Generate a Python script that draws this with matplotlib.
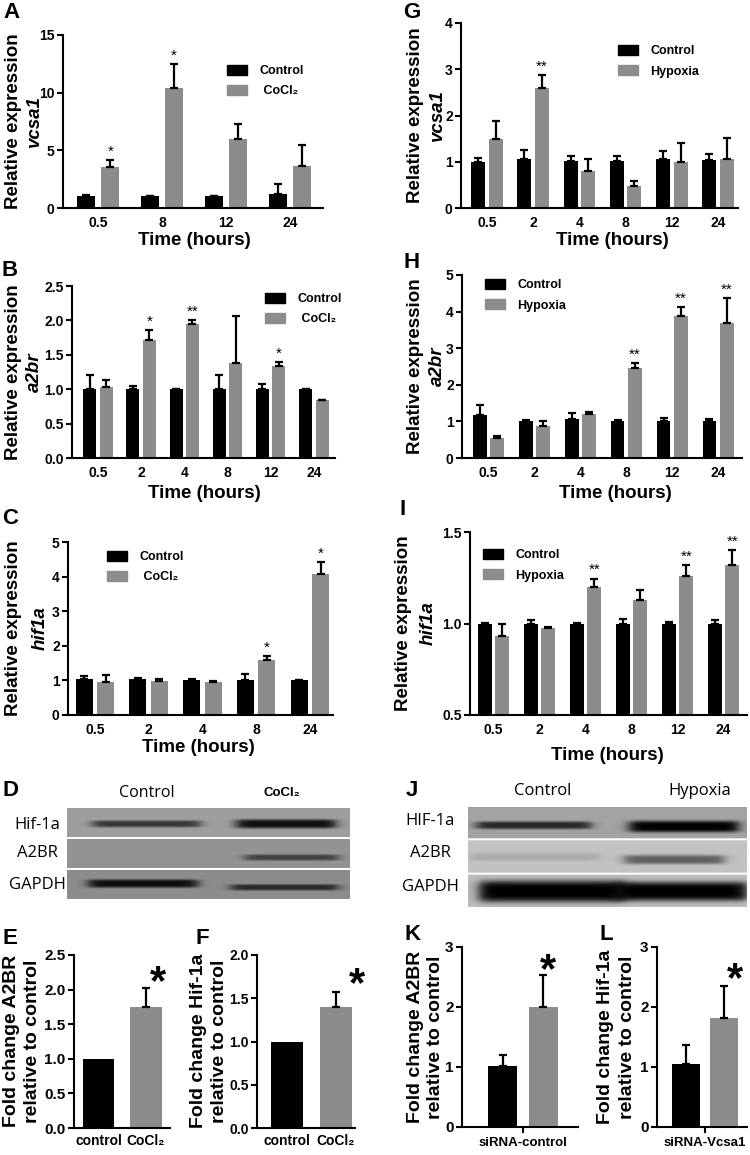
import numpy as np
import matplotlib
matplotlib.use("Agg")
import matplotlib.pyplot as plt
from matplotlib.patches import Patch
from matplotlib.ticker import FormatStrFormatter

plt.rcParams["font.family"] = ["Liberation Sans", "DejaVu Sans"]
plt.rcParams["font.weight"] = "bold"

W, H = 750, 1155
BLACK = "#000000"
GREY = "#8c8c8c"
BLOT_FONT = ["Open Sans", "DejaVu Sans"]

# ---- qPCR time courses (left: CoCl2, right: hypoxia) ----
A_times = ["0.5", "8", "12", "24"]
A_ctrl = [1.0, 1.0, 1.0, 1.2]
A_ctrl_err = [0.1, 0.08, 0.05, 0.85]
A_trt = [3.55, 10.4, 5.95, 3.6]
A_trt_err = [0.6, 2.1, 1.35, 1.9]
A_stars = ["*", "*", "", ""]

B_times = ["0.5", "2", "4", "8", "12", "24"]
B_ctrl = [1.0, 1.0, 1.0, 1.01, 1.0, 1.0]
B_ctrl_err = [0.21, 0.05, 0.01, 0.2, 0.07, 0.01]
B_trt = [1.03, 1.72, 1.95, 1.38, 1.33, 0.84]
B_trt_err = [0.11, 0.14, 0.05, 0.69, 0.07, 0.01]
B_stars = ["", "*", "**", "", "*", ""]

C_times = ["0.5", "2", "4", "8", "24"]
C_ctrl = [1.04, 1.04, 1.02, 1.01, 1.0]
C_ctrl_err = [0.09, 0.02, 0.02, 0.17, 0.02]
C_trt = [0.96, 0.97, 0.96, 1.6, 4.08]
C_trt_err = [0.21, 0.08, 0.03, 0.11, 0.35]
C_stars = ["", "", "", "*", "*"]

G_times = ["0.5", "2", "4", "8", "12", "24"]
G_ctrl = [1.0, 1.06, 1.02, 1.02, 1.05, 1.03]
G_ctrl_err = [0.08, 0.2, 0.11, 0.1, 0.19, 0.14]
G_trt = [1.5, 2.6, 0.8, 0.47, 1.0, 1.05]
G_trt_err = [0.38, 0.27, 0.25, 0.12, 0.4, 0.47]
G_stars = ["", "**", "", "", "", ""]

H_times = ["0.5", "2", "4", "8", "12", "24"]
H_ctrl = [1.17, 1.02, 1.07, 1.02, 1.02, 1.02]
H_ctrl_err = [0.28, 0.03, 0.17, 0.03, 0.08, 0.05]
H_trt = [0.56, 0.87, 1.2, 2.47, 3.88, 3.7]
H_trt_err = [0.05, 0.15, 0.05, 0.13, 0.24, 0.68]
H_stars = ["", "", "", "**", "**", "**"]

I_times = ["0.5", "2", "4", "8", "12", "24"]
I_ctrl = [1.0, 1.0, 1.0, 1.0, 1.0, 1.0]
I_ctrl_err = [0.005, 0.02, 0.005, 0.025, 0.01, 0.02]
I_trt = [0.93, 0.975, 1.2, 1.13, 1.26, 1.32]
I_trt_err = [0.065, 0.008, 0.045, 0.055, 0.06, 0.08]
I_stars = ["", "", "**", "", "**", "**"]

# ---- western blot quantification ----
E_vals = [1.0, 1.75]
E_err = [0.0, 0.27]
F_vals = [1.0, 1.4]
F_err = [0.0, 0.17]
K_vals = [1.02, 2.0]
K_err = [0.18, 0.54]
L_vals = [1.05, 1.82]
L_err = [0.32, 0.53]

# ---- blot bands: (row, x0, x1, y centre, half-thickness, darkness) in blot fractions ----
D_rows = ["Hif-1a", "A2BR", "GAPDH"]
D_bg = [0.62, 0.58, 0.55]
D_bands = [(0, 0.09, 0.47, 0.53, 0.10, 0.65), (0, 0.60, 0.95, 0.53, 0.13, 0.9),
           (1, 0.63, 0.96, 0.62, 0.09, 0.55),
           (2, 0.075, 0.46, 0.45, 0.12, 0.9), (2, 0.58, 0.96, 0.58, 0.09, 0.7)]
J_rows = ["HIF-1a", "A2BR", "GAPDH"]
J_bg = [0.64, 0.76, 0.74]
J_bands = [(0, 0.03, 0.44, 0.58, 0.10, 0.75), (0, 0.58, 0.97, 0.62, 0.15, 1.0),
           (1, 0.01, 0.47, 0.50, 0.10, 0.12), (1, 0.56, 0.92, 0.58, 0.12, 0.5),
           (2, 0.04, 0.56, 0.50, 0.28, 1.0), (2, 0.53, 1.0, 0.50, 0.25, 1.0)]

fig = plt.figure(figsize=(W / 100, H / 100), dpi=100)
fig.patch.set_facecolor("white")


def box(l, t, r, b):
    return [l / W, 1 - b / H, (r - l) / W, (b - t) / H]


def ftext(x, y, s, **kw):
    kw.setdefault("ha", "center")
    kw.setdefault("va", "center")
    fig.text(x / W, 1 - y / H, s, **kw)


def style(ax, ylim, yticks, yfmt, ysize=10):
    for side in ("top", "right"):
        ax.spines[side].set_visible(False)
    for side in ("left", "bottom"):
        ax.spines[side].set_linewidth(1.5)
    ax.set_ylim(*ylim)
    ax.set_yticks(yticks)
    ax.yaxis.set_major_formatter(FormatStrFormatter(yfmt))
    ax.tick_params(axis="y", direction="out", length=4, width=1.5, labelsize=ysize, pad=2)
    ax.tick_params(axis="x", length=0, pad=6, labelsize=10)


def legend_at(ax, x, y, trt_label):
    handles = [Patch(color=BLACK), Patch(color=GREY)]
    ax.legend(handles, ["Control", trt_label], loc="upper left",
              bbox_to_anchor=(x / W, 1 - y / H), bbox_transform=fig.transFigure,
              frameon=False, borderpad=0, borderaxespad=0, handlelength=1.6,
              handleheight=0.9, handletextpad=1.0, labelspacing=0.6, fontsize=9)


def errs(ax, x, vals, err):
    ax.errorbar(x, vals, yerr=[np.zeros(len(vals)), err], fmt="none", ecolor=BLACK,
                elinewidth=1.6, capsize=3, capthick=1.6)


def time_panel(rect, times, ctrl, ctrl_err, trt, trt_err, stars, ylim, yticks, yfmt,
               xlim, width=0.3, off=0.19):
    ax = fig.add_axes(box(*rect))
    x = np.arange(len(times))
    ax.bar(x - off, ctrl, width, color=BLACK)
    ax.bar(x + off, trt, width, color=GREY)
    errs(ax, x - off, ctrl, ctrl_err)
    errs(ax, x + off, trt, trt_err)
    for xi, top, s in zip(x + off, np.add(trt, trt_err), stars):
        if s:
            ax.annotate(s, (xi, top), xytext=(0, 1), textcoords="offset points",
                        ha="center", va="bottom", fontsize=11, fontweight="normal")
    ax.set_xticks(x)
    ax.set_xticklabels(times)
    ax.set_xlim(*xlim)
    style(ax, ylim, yticks, yfmt)
    return ax


def ylabels(x1, x2, yc, line1, line2, size=13.5, italic=True):
    ftext(x1, yc, line1, rotation=90, fontsize=size)
    ftext(x2, yc, line2, rotation=90, fontsize=size, style="italic" if italic else "normal")


# ---------------- A ----------------
ax = time_panel((63, 35, 323, 208), A_times, A_ctrl, A_ctrl_err, A_trt, A_trt_err, A_stars,
                (0, 15), [0, 5, 10, 15], "%d", (-0.55, 3.52), width=0.28)
legend_at(ax, 227, 65, " CoCl₂")
ylabels(14, 34, 121, "Relative expression", "vcsa1")
ftext(194, 240, "Time (hours)", fontsize=13.5)

# ---------------- B ----------------
ax = time_panel((72, 286, 335, 458), B_times, B_ctrl, B_ctrl_err, B_trt, B_trt_err, B_stars,
                (0, 2.5), [0, 0.5, 1.0, 1.5, 2.0, 2.5], "%.1f", (-0.6, 5.49))
legend_at(ax, 265, 293, " CoCl₂")
ylabels(14, 34, 372, "Relative expression", "a2br")
ftext(204, 493, "Time (hours)", fontsize=13.5)

# ---------------- C ----------------
ax = time_panel((68, 542, 333, 715), C_times, C_ctrl, C_ctrl_err, C_trt, C_trt_err, C_stars,
                (0, 5), [0, 1, 2, 3, 4, 5], "%d", (-0.5, 4.43), width=0.32, off=0.2)
legend_at(ax, 107, 551, " CoCl₂")
ylabels(14, 40, 628, "Relative expression", "hif1a")
ftext(198, 748, "Time (hours)", fontsize=13.5)

# ---------------- G ----------------
ax = time_panel((461, 23, 738, 208), G_times, G_ctrl, G_ctrl_err, G_trt, G_trt_err, G_stars,
                (0, 4), [0, 1, 2, 3, 4], "%d", (-0.56, 5.43))
legend_at(ax, 618, 45, "Hypoxia")
ylabels(415, 437, 115, "Relative expression", "vcsa1")
ftext(612, 240, "Time (hours)", fontsize=13.5)

# ---------------- H ----------------
ax = time_panel((462, 275, 742, 458), H_times, H_ctrl, H_ctrl_err, H_trt, H_trt_err, H_stars,
                (0, 5), [0, 1, 2, 3, 4, 5], "%d", (-0.58, 5.52))
legend_at(ax, 485, 279, "Hypoxia")
ylabels(415, 437, 366, "Relative expression", "a2br")
ftext(615, 494, "Time (hours)", fontsize=13.5)

# ---------------- I ----------------
ax = time_panel((470, 532, 747, 715), I_times, I_ctrl, I_ctrl_err, I_trt, I_trt_err, I_stars,
                (0.5, 1.5), [0.5, 1.0, 1.5], "%.1f", (-0.51, 5.51))
legend_at(ax, 483, 549, "Hypoxia")
ylabels(404, 428, 623, "Relative expression", "hif1a")
ftext(607, 755, "Time (hours)", fontsize=13.5)


# ---------------- blots D / J ----------------
def blot(rect, bg, bands, sep_px=2):
    l, t, r, b = rect
    w, h = r - l, b - t
    ax = fig.add_axes(box(*rect))
    img = np.ones((h, w))
    row_h = (h - 2 * sep_px) / 3.0
    xs = np.linspace(0, 1, w)
    for k in range(3):
        y0 = int(round(k * (row_h + sep_px)))
        y1 = int(round(y0 + row_h))
        img[y0:y1, :] = bg[k]
    for row, x0, x1, yc, hw, dark in bands:
        y0 = row * (row_h + sep_px)
        ys = (np.arange(h) - y0) / row_h
        gy = np.exp(-(((ys - yc) / hw) ** 4) / 2)
        gy[(ys < 0) | (ys > 1)] = 0
        gx = 0.5 * (np.tanh((xs - x0) / 0.025) - np.tanh((xs - x1) / 0.025))
        img = img - np.outer(gy, gx) * dark * img
    ax.imshow(img, cmap="gray", vmin=0, vmax=1, aspect="auto", interpolation="bilinear")
    ax.set_axis_off()


blot((67, 808, 350, 899), D_bg, D_bands)
for name, yc in zip(D_rows, [825, 853, 885]):
    ftext(37, yc, name, fontsize=12, fontweight="normal", family=BLOT_FONT)
ftext(147, 793, "Control", fontsize=11.5, fontweight="normal", family=BLOT_FONT)
ftext(282, 793, "CoCl₂", fontsize=9.5)

blot((468, 807, 747, 907), J_bg, J_bands)
for name, yc in zip(J_rows, [821, 853, 887]):
    ftext(430, yc, name, fontsize=12, fontweight="normal", family=BLOT_FONT)
ftext(543, 791, "Control", fontsize=12, fontweight="normal", family=BLOT_FONT)
ftext(700, 791, "Hypoxia", fontsize=12, fontweight="normal", family=BLOT_FONT)


# ---------------- E F K L ----------------
def fold_panel(rect, vals, err, ylim, yticks, yfmt, xlim, star_dx, star_dy,
               xlabels=None, single=None, width=0.66, ysize=11):
    ax = fig.add_axes(box(*rect))
    x = np.arange(2)
    ax.bar(x, vals, width, color=[BLACK, GREY])
    show = [i for i in range(2) if err[i] > 0]
    errs(ax, x[show], np.array(vals)[show], np.array(err)[show])
    ax.annotate("*", (1, vals[1] + err[1]), xytext=(star_dx, star_dy),
                textcoords="offset pixels", ha="center", va="center", fontsize=30)
    ax.set_xlim(*xlim)
    style(ax, ylim, yticks, yfmt, ysize=ysize)
    if single:
        ax.set_xticks([0.5])
        ax.set_xticklabels([single], family=["Liberation Sans Narrow", "Liberation Sans"],
                           fontsize=9.5)
        ax.tick_params(axis="x", length=4, width=1.5, pad=3)
    else:
        ax.set_xticks(x)
        ax.set_xticklabels(xlabels, fontsize=10)
        ax.tick_params(axis="x", pad=4)
    return ax


fold_panel((74, 955, 170, 1128), E_vals, E_err, (0, 2.5), [0, 0.5, 1.0, 1.5, 2.0, 2.5], "%.1f",
           (-0.53, 1.51), 12, 5, xlabels=["control", "CoCl₂"])
ylabels(12, 33, 1041, "Fold change A2BR", "relative to control", size=14, italic=False)

fold_panel((257, 955, 355, 1128), F_vals, F_err, (0, 2.0), [0, 0.5, 1.0, 1.5, 2.0], "%.1f",
           (-0.63, 1.4), 21, 7, xlabels=["control", "CoCl₂"], ysize=10)
ylabels(199, 220, 1041, "Fold change Hif-1a", "relative to control", size=14, italic=False)

fold_panel((462, 947, 578, 1127), K_vals, K_err, (0, 3), [0, 1, 2, 3], "%d",
           (-1.0, 1.86), 5, 4, single="siRNA-control", width=0.72)
ylabels(416, 436, 1037, "Fold change A2BR", "relative to control", size=14, italic=False)

fold_panel((657, 947, 747, 1127), L_vals, L_err, (0, 3), [0, 1, 2, 3], "%d",
           (-0.76, 1.6), 11, 6, single="siRNA-Vcsa1", width=0.74)
ylabels(606, 627, 1037, "Fold change Hif-1a", "relative to control", size=14, italic=False)

# ---------------- panel letters ----------------
for letter, x, y in [("A", 11, 12), ("B", 10, 270), ("C", 10, 518), ("D", 10, 790),
                     ("E", 10, 938), ("F", 202, 938), ("G", 412, 12), ("H", 412, 263),
                     ("I", 403, 510), ("J", 412, 790), ("K", 413, 935), ("L", 606, 935)]:
    ftext(x, y, letter, fontsize=16, fontweight="bold")

fig.savefig("out.png", dpi=100, facecolor="white")
